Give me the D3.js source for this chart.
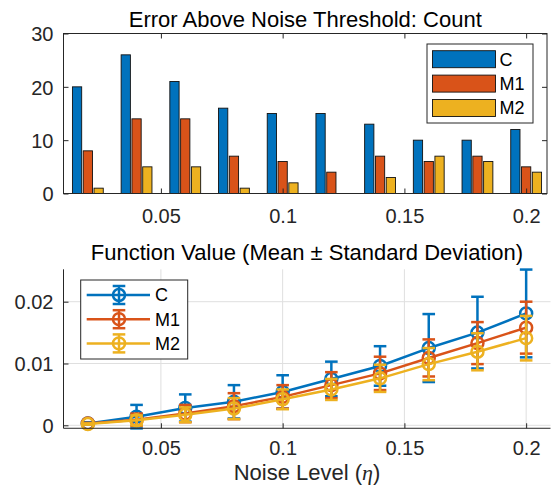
<!DOCTYPE html>
<html>
<head>
<meta charset="utf-8">
<script src="https://cdn.jsdelivr.net/npm/d3@7"></script>
<style>
  body { margin: 0; background: #fff; }
  text { font-family: "Liberation Sans", Arial, Helvetica, sans-serif; }
</style>
</head>
<body>
<div id="container"></div>
<script>
// data
var noise = [0.02, 0.04, 0.06, 0.08, 0.10, 0.12, 0.14, 0.16, 0.18, 0.20];
var seriesNames = ["C", "M1", "M2"];

var countC  = [20, 26, 21, 16, 15, 15, 13, 10, 10, 12];
var countM1 = [8, 14, 14, 7, 6, 4, 7, 6, 7, 5];
var countM2 = [1, 5, 5, 1, 2, 0, 3, 7, 6, 4];

var meanC  = [0.0003, 0.0014, 0.0028, 0.0038, 0.0054, 0.0075, 0.0096, 0.0125, 0.0150, 0.0181];
var sdC    = [0.0002, 0.0019, 0.0022, 0.0027, 0.0027, 0.0028, 0.0032, 0.0055, 0.0058, 0.0071];
var meanM1 = [0.0003, 0.0009, 0.0019, 0.0031, 0.0046, 0.0065, 0.0084, 0.0109, 0.0133, 0.0158];
var sdM1   = [0.0001, 0.0010, 0.0014, 0.0021, 0.0019, 0.0021, 0.0027, 0.0030, 0.0034, 0.0042];
var meanM2 = [0.0002, 0.0008, 0.0017, 0.0027, 0.0042, 0.0058, 0.0076, 0.0099, 0.0119, 0.0141];
var sdM2   = [0.0001, 0.0008, 0.0012, 0.0017, 0.0016, 0.0017, 0.0022, 0.0026, 0.0030, 0.0036];

var xTicks = [0.05, 0.1, 0.15, 0.2];
var yTicksTop = [0, 10, 20, 30];
var yTicksBot = [0, 0.01, 0.02];

var colors = ["#0072BD", "#D95319", "#EDB120"];
var axisColor = "#262626";

var counts = [countC, countM1, countM2];
var means = [meanC, meanM1, meanM2];
var sds = [sdC, sdM1, sdM2];

var svg = d3.select("div#container").append("svg")
  .attr("width", 552).attr("height", 494)
  .style("display", "block");

// shared x scale
var xScale = d3.scaleLinear().domain([0.01, 0.21]).range([63.5, 550.5]);

/* ---------- top panel: grouped bars ---------- */
var topL = 63.5, topR = 547, topT = 33.5, topB = 193.5;
var yTop = d3.scaleLinear().domain([0, 30]).range([topB, topT]);

var pitch = 0.00443, barW = 0.0038;
var gTop = svg.append("g");

counts.forEach(function(vals, s) {
  gTop.selectAll("rect.s" + s)
    .data(vals)
    .enter().append("rect")
    .attr("x", function(d, i) { return xScale(noise[i] + (s - 1) * pitch - barW / 2); })
    .attr("width", xScale(barW) - xScale(0))
    .attr("y", function(d) { return yTop(d); })
    .attr("height", function(d) { return yTop(0) - yTop(d); })
    .attr("fill", colors[s])
    .attr("stroke", "#111")
    .attr("stroke-width", 0.9);
});

// axes of top panel (ticks inward)
var yAxisTop = d3.axisLeft(yTop).tickValues(yTicksTop).tickFormat(d3.format("d"))
  .tickSizeInner(-5).tickSizeOuter(0).tickPadding(10);
var gy = gTop.append("g").attr("transform", "translate(" + topL + ",0)").call(yAxisTop);
var yAxisTopR = d3.axisRight(yTop).tickValues(yTicksTop).tickFormat("").tickSizeInner(-5).tickSizeOuter(0);
var gyr = gTop.append("g").attr("transform", "translate(" + topR + ",0)").call(yAxisTopR);
var xAxisTop = d3.axisBottom(xScale).tickValues(xTicks).tickFormat(d3.format("~g"))
  .tickSizeInner(-5).tickSizeOuter(0).tickPadding(0);
var gx = gTop.append("g").attr("transform", "translate(0," + topB + ")").call(xAxisTop);
var xAxisTopT = d3.axisTop(xScale).tickValues(xTicks).tickFormat("").tickSizeInner(-5).tickSizeOuter(0);
var gxt = gTop.append("g").attr("transform", "translate(0," + topT + ")").call(xAxisTopT);

[gy, gyr, gx, gxt].forEach(function(g) {
  g.select(".domain").remove();
  g.selectAll("line").attr("stroke", axisColor);
  g.selectAll("text").attr("fill", axisColor).style("font-size", "20px");
});
gx.selectAll("text").attr("dy", null).attr("y", 29.5);
gy.selectAll("text").attr("dy", "0.36em");

gTop.append("rect")
  .attr("x", topL).attr("y", topT)
  .attr("width", topR - topL).attr("height", topB - topT)
  .attr("fill", "none").attr("stroke", axisColor).attr("stroke-width", 1);

svg.append("text")
  .attr("x", (topL + topR) / 2).attr("y", 26.5)
  .attr("text-anchor", "middle")
  .style("font-size", "22px").attr("fill", "#000")
  .text("Error Above Noise Threshold: Count");

// top legend
var legT = svg.append("g");
legT.append("rect").attr("x", 427).attr("y", 44).attr("width", 106).attr("height", 79)
  .attr("fill", "#fff").attr("stroke", axisColor).attr("stroke-width", 1);
seriesNames.forEach(function(name, s) {
  var cy = 59.2 + s * 24.4;
  legT.append("rect").attr("x", 432.5).attr("y", cy - 8.5).attr("width", 63).attr("height", 17)
    .attr("fill", colors[s]).attr("stroke", "#111").attr("stroke-width", 0.9);
  legT.append("text").attr("x", 499.5).attr("y", cy).attr("dy", "0.36em")
    .style("font-size", "18px").attr("fill", "#000").text(name);
});

/* ---------- bottom panel: error bars ---------- */
var botL = 63.5, botR = 550.5;
var yBot = d3.scaleLinear().domain([0, 0.02]).range([425.3, 301.7]);
var botB = yBot(-0.00048), botT = yBot(0.02524);
var gBot = svg.append("g");

// grid
gBot.selectAll("line.gx").data(xTicks).enter().append("line")
  .attr("x1", function(d) { return xScale(d); }).attr("x2", function(d) { return xScale(d); })
  .attr("y1", botT).attr("y2", botB)
  .attr("stroke", "#dfdfdf").attr("stroke-width", 1);
gBot.selectAll("line.gy").data(yTicksBot).enter().append("line")
  .attr("x1", botL).attr("x2", botR)
  .attr("y1", function(d) { return yBot(d); }).attr("y2", function(d) { return yBot(d); })
  .attr("stroke", "#dfdfdf").attr("stroke-width", 1);

var line = d3.line()
  .x(function(d, i) { return xScale(noise[i]); })
  .y(function(d) { return yBot(d); });

var capHalf = 6.3;
means.forEach(function(m, s) {
  var g = gBot.append("g").attr("stroke", colors[s]).attr("fill", "none").attr("stroke-width", 2.5);
  g.append("path").datum(m).attr("d", line).attr("stroke-linejoin", "round");
  m.forEach(function(v, i) {
    var cx = xScale(noise[i]);
    var lo = yBot(v - sds[s][i]), hi = yBot(v + sds[s][i]);
    g.append("line").attr("x1", cx).attr("x2", cx).attr("y1", lo).attr("y2", hi);
    g.append("line").attr("x1", cx - capHalf).attr("x2", cx + capHalf).attr("y1", lo).attr("y2", lo);
    g.append("line").attr("x1", cx - capHalf).attr("x2", cx + capHalf).attr("y1", hi).attr("y2", hi);
    g.append("circle").attr("cx", cx).attr("cy", yBot(v)).attr("r", 6);
  });
});

// axes of bottom panel
var yAxisBot = d3.axisLeft(yBot).tickValues(yTicksBot).tickFormat(d3.format("~g"))
  .tickSizeInner(-5).tickSizeOuter(0).tickPadding(10);
var gyb = gBot.append("g").attr("transform", "translate(" + botL + ",0)").call(yAxisBot);
var xAxisBot = d3.axisBottom(xScale).tickValues(xTicks).tickFormat(d3.format("~g"))
  .tickSizeInner(-5).tickSizeOuter(0).tickPadding(0);
var gxb = gBot.append("g").attr("transform", "translate(0," + botB + ")").call(xAxisBot);
[gyb, gxb].forEach(function(g) {
  g.select(".domain").remove();
  g.selectAll("line").attr("stroke", axisColor);
  g.selectAll("text").attr("fill", axisColor).style("font-size", "20px");
});
gxb.selectAll("text").attr("dy", null).attr("y", 27.2);
gyb.selectAll("text").attr("dy", "0.36em");
gBot.append("line").attr("x1", botL).attr("x2", botL).attr("y1", botT).attr("y2", botB)
  .attr("stroke", axisColor).attr("stroke-width", 1);
gBot.append("line").attr("x1", botL).attr("x2", botR).attr("y1", botB).attr("y2", botB)
  .attr("stroke", axisColor).attr("stroke-width", 1);

svg.append("text")
  .attr("x", (botL + botR) / 2).attr("y", 260)
  .attr("text-anchor", "middle")
  .style("font-size", "22px").attr("fill", "#000")
  .text("Function Value (Mean \u00B1 Standard Deviation)");

var xl = svg.append("text")
  .attr("x", (botL + botR) / 2).attr("y", 479.5)
  .attr("text-anchor", "middle")
  .style("font-size", "22px").attr("fill", axisColor);
xl.append("tspan").text("Noise Level (");
xl.append("tspan").style("font-family", "'Liberation Serif', 'DejaVu Serif', serif")
  .style("font-style", "italic").text("\u03B7");
xl.append("tspan").text(")");

// bottom legend
var legB = svg.append("g");
legB.append("rect").attr("x", 80.7).attr("y", 280).attr("width", 107).attr("height", 79)
  .attr("fill", "#fff").attr("stroke", axisColor).attr("stroke-width", 1);
seriesNames.forEach(function(name, s) {
  var cy = 295 + s * 24.2;
  var g = legB.append("g").attr("stroke", colors[s]).attr("fill", "none").attr("stroke-width", 2.5);
  g.append("line").attr("x1", 86.7).attr("x2", 150).attr("y1", cy).attr("y2", cy);
  g.append("line").attr("x1", 119).attr("x2", 119).attr("y1", cy - 9).attr("y2", cy + 9);
  g.append("line").attr("x1", 119 - capHalf).attr("x2", 119 + capHalf).attr("y1", cy - 9).attr("y2", cy - 9);
  g.append("line").attr("x1", 119 - capHalf).attr("x2", 119 + capHalf).attr("y1", cy + 9).attr("y2", cy + 9);
  g.append("circle").attr("cx", 119).attr("cy", cy).attr("r", 6);
  legB.append("text").attr("x", 155).attr("y", cy).attr("dy", "0.36em")
    .style("font-size", "18px").attr("fill", "#000").text(name);
});
</script>
</body>
</html>
